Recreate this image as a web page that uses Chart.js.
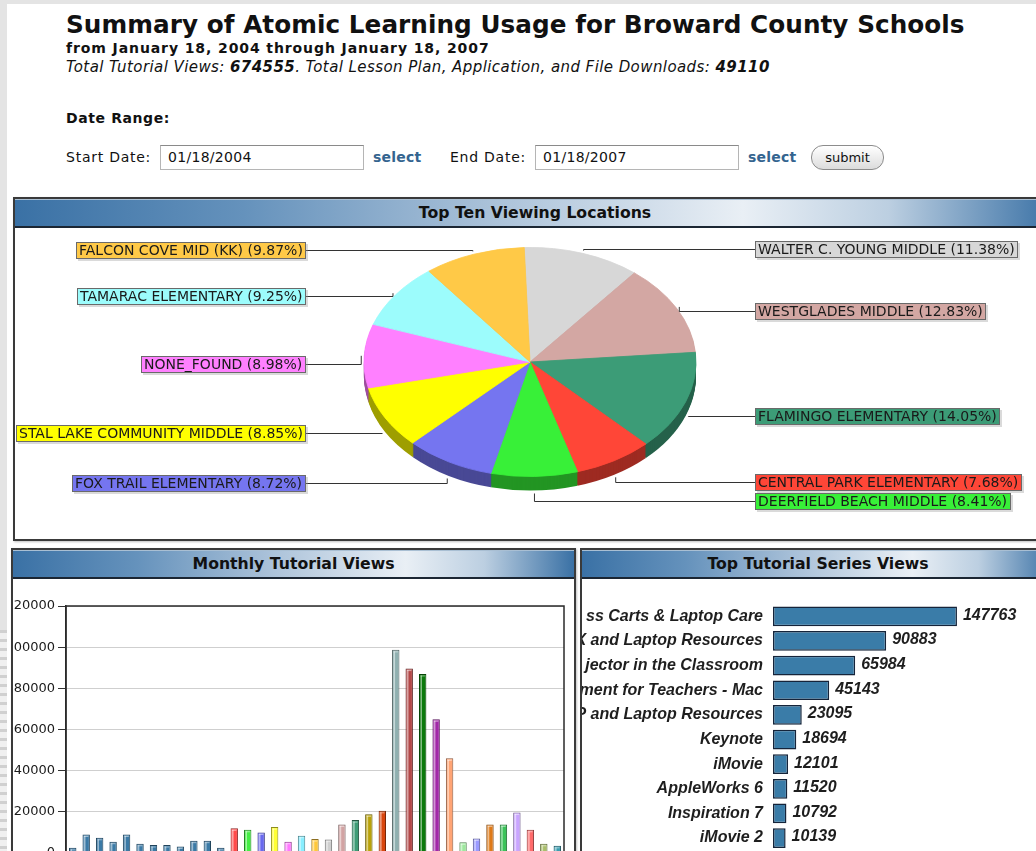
<!DOCTYPE html>
<html><head><meta charset="utf-8">
<script src="https://cdn.jsdelivr.net/npm/chart.js@4.4.1/dist/chart.umd.min.js"></script>
<style>
html,body{margin:0;padding:0;width:1036px;height:851px;overflow:hidden;background:#e4e4e4;font-family:"DejaVu Sans",sans-serif;color:#111;}
.abs{position:absolute;white-space:nowrap;}
#page{position:absolute;left:7px;top:4px;width:1040px;height:860px;background:#fff;}
#stripes{position:absolute;left:0;top:630px;width:7px;height:230px;background:repeating-linear-gradient(180deg,#d0d0d0 0,#d0d0d0 3px,#f0f0f0 3px,#f0f0f0 9px);}
.panel{position:absolute;border:2px solid #3a3a3a;background:#fff;box-sizing:border-box;box-shadow:1px 1px 2px rgba(0,0,0,.25);overflow:hidden;}
.hdr{position:absolute;left:0;right:0;top:0;height:26px;border-top:1px solid #a9bfd3;border-bottom:2px solid #1b2633;
 background:linear-gradient(90deg,#3a71a5 0%,#6592bc 22%,#a8c0d8 45%,#e9eff5 70%,#bccfe1 84%,#3a71a5 100%);
 font:bold 15.7px "DejaVu Sans",sans-serif;text-align:center;line-height:26px;color:#111;box-sizing:content-box;}
.box{position:absolute;overflow:hidden;}
.inp{position:absolute;height:25px;box-sizing:border-box;border:1px solid #b5b5b5;border-top-color:#8a8a8a;background:#fff;font:14px "DejaVu Sans",sans-serif;line-height:23px;padding-left:7px;color:#111;letter-spacing:0.3px;}
.sel{font:bold 14px "DejaVu Sans",sans-serif;color:#34648f;letter-spacing:0.2px;}
</style></head>
<body>
<div id="page"></div>
<div id="stripes"></div>

<div class="abs" style="left:66px;top:12px;font:bold 24.7px/25px 'DejaVu Sans',sans-serif;letter-spacing:0.05px;">Summary of Atomic Learning Usage for Broward County Schools</div>
<div class="abs" style="left:66px;top:41px;font:bold 14px/14px 'DejaVu Sans',sans-serif;letter-spacing:0.9px;">from January 18, 2004 through January 18, 2007</div>
<div class="abs" style="left:66px;top:60px;font:italic 15px/15px 'DejaVu Sans',sans-serif;letter-spacing:0.42px;">Total Tutorial Views: <b>674555</b>. Total Lesson Plan, Application, and File Downloads: <b>49110</b></div>
<div class="abs" style="left:66px;top:111px;font:bold 14px/14px 'DejaVu Sans',sans-serif;letter-spacing:0.6px;">Date Range:</div>
<div class="abs" style="left:66px;top:150px;font:14px/14px 'DejaVu Sans',sans-serif;letter-spacing:0.75px;">Start Date:</div>
<div class="inp" style="left:160px;top:145px;width:204px;">01/18/2004</div>
<div class="abs sel" style="left:373px;top:150px;line-height:14px;">select</div>
<div class="abs" style="left:450px;top:150px;font:14px/14px 'DejaVu Sans',sans-serif;letter-spacing:0.75px;">End Date:</div>
<div class="inp" style="left:535px;top:145px;width:204px;">01/18/2007</div>
<div class="abs sel" style="left:748px;top:150px;line-height:14px;">select</div>
<div class="abs" style="left:811px;top:145px;width:73px;height:25px;box-sizing:border-box;border:1px solid #8c8c8c;border-radius:12px;background:linear-gradient(#ffffff,#dcdcdc);font:13px/23px 'DejaVu Sans',sans-serif;text-align:center;">submit</div>

<div class="panel" style="left:13px;top:197px;width:1044px;height:344px;">
  <div class="hdr">Top Ten Viewing Locations</div>
</div>
<div class="box" style="left:15px;top:228px;width:1021px;height:311px;"><canvas id="pie" width="1030" height="311"></canvas></div>

<div class="panel" style="left:11px;top:548px;width:565px;height:320px;">
  <div class="hdr">Monthly Tutorial Views</div>
</div>
<div class="box" style="left:13px;top:580px;width:561px;height:271px;"><canvas id="monthly" width="561" height="300"></canvas></div>

<div class="panel" style="left:580px;top:548px;width:476px;height:320px;">
  <div class="hdr">Top Tutorial Series Views</div>
</div>
<div class="box" style="left:582px;top:580px;width:454px;height:271px;"><canvas id="series" width="454" height="290"></canvas></div>

<script>
// ---------- DATA ----------
const pieLabels = ['WALTER C. YOUNG MIDDLE','WESTGLADES MIDDLE','FLAMINGO ELEMENTARY','CENTRAL PARK ELEMENTARY','DEERFIELD BEACH MIDDLE','FOX TRAIL ELEMENTARY','STAL LAKE COMMUNITY MIDDLE','NONE_FOUND','TAMARAC ELEMENTARY','FALCON COVE MID (KK)'];
const pieValues = [11.38, 12.83, 14.05, 7.68, 8.41, 8.72, 8.85, 8.98, 9.25, 9.87];
const pieColors = ['#d7d7d7','#d3a7a3','#3c9c77','#ff4637','#38f038','#7575f0','#ffff00','#ff80ff','#9cfcfc','#ffc947'];

const months = ['Jan 2004','Feb 2004','Mar 2004','Apr 2004','May 2004','Jun 2004','Jul 2004','Aug 2004','Sep 2004','Oct 2004','Nov 2004','Dec 2004',
  'Jan 2005','Feb 2005','Mar 2005','Apr 2005','May 2005','Jun 2005','Jul 2005','Aug 2005','Sep 2005','Oct 2005','Nov 2005','Dec 2005',
  'Jan 2006','Feb 2006','Mar 2006','Apr 2006','May 2006','Jun 2006','Jul 2006','Aug 2006','Sep 2006','Oct 2006','Nov 2006','Dec 2006','Jan 2007'];
const monthlyViews = [2500,9000,7400,5500,9000,4500,3900,3900,3200,6000,6000,2500,
  12000,11300,10000,12600,5500,8400,6800,6500,13900,16000,18800,20500,
  98700,89600,87000,65000,46000,5200,7100,13900,13900,19700,11300,4500,3500];
const monthColors = ['#3b7aa6','#3b7aa6','#3b7aa6','#3b7aa6','#3b7aa6','#3b7aa6','#3b7aa6','#3b7aa6','#3b7aa6','#3b7aa6','#3b7aa6','#3b7aa6',
  '#ff4a4a','#44ee44','#6a6aee','#ffff33','#ff77ff','#88eeff','#ffc83a','#cfcfcf','#d2a3a3','#3d9c76','#b9a20a','#d8460e',
  '#8fb0b0','#b34848','#0b7a0b','#a228a8','#ffa474','#9de89d','#9a9aff','#de7a18','#3cc35a','#c9a4ff','#ff6b6b','#a9be6a','#3a9db0'];
const yTicks = [0,20000,40000,60000,80000,100000,120000];

const seriesLabels = ['ss Carts & Laptop Care','X and Laptop Resources','jector in the Classroom','ment for Teachers - Mac','P and Laptop Resources','Keynote','iMovie','AppleWorks 6','Inspiration 7','iMovie 2'];
const seriesValues = [147763, 90883, 65984, 45143, 23095, 18694, 12101, 11520, 10792, 10139];

// ---------- HELPERS ----------
function shade(hex, f){
  const n = parseInt(hex.slice(1),16);
  const r=Math.round(((n>>16)&255)*f), g=Math.round(((n>>8)&255)*f), b=Math.round((n&255)*f);
  return 'rgb('+r+','+g+','+b+')';
}
Chart.defaults.animation = false;
Chart.defaults.plugins.legend.display = false;
Chart.defaults.plugins.tooltip.enabled = false;

// ---------- 3D PIE ----------
const PIE_K = 0.69, PIE_DEPTH = 14;
const pie3d = {
  id: 'pie3d',
  beforeDatasetsDraw(chart){
    const ctx = chart.ctx, meta = chart.getDatasetMeta(0);
    const a0 = meta.data[0]; const cx = a0.x, cy = a0.y;
    for (let d = PIE_DEPTH; d >= 1; d--) {
      meta.data.forEach((arc, i) => {
        const p = arc.getProps(['startAngle','endAngle','outerRadius'], true);
        ctx.save();
        ctx.translate(cx, cy + d); ctx.scale(1, PIE_K); ctx.translate(-cx, -cy);
        ctx.beginPath(); ctx.moveTo(cx, cy); ctx.arc(cx, cy, p.outerRadius, p.startAngle, p.endAngle); ctx.closePath();
        ctx.fillStyle = shade(pieColors[i], 0.62); ctx.fill();
        ctx.restore();
      });
    }
    ctx.save();
    ctx.translate(cx, cy); ctx.scale(1, PIE_K); ctx.translate(-cx, -cy);
  },
  afterDatasetsDraw(chart){
    const ctx = chart.ctx; ctx.restore();
    const meta = chart.getDatasetMeta(0);
    const a0 = meta.data[0]; const cx = a0.x, cy = a0.y;
    const items = meta.data.map((arc, i) => {
      const p = arc.getProps(['startAngle','endAngle','outerRadius'], true);
      const mid = (p.startAngle + p.endAngle) / 2, c = Math.cos(mid), s = Math.sin(mid);
      const rx = p.outerRadius, ry = p.outerRadius * PIE_K;
      return {i, left: c < 0,
        ax: cx + (rx + 3) * c,
        ay: cy + (ry + 3) * s + (s > 0 ? PIE_DEPTH : 0),
        y: cy + 9 + (ry + 14) * s,
        text: pieLabels[i] + ' (' + pieValues[i].toFixed(2) + '%)'};
    });
    [true, false].forEach(side => {
      const list = items.filter(t => t.left === side).sort((a, b) => a.y - b.y);
      for (let j = 1; j < list.length; j++) if (list[j].y - list[j-1].y < 19) list[j].y = list[j-1].y + 19;
    });
    ctx.font = '14px "DejaVu Sans"';
    ctx.textBaseline = 'middle';
    items.forEach(t => {
      const y = Math.round(t.y);
      const w = Math.ceil(ctx.measureText(t.text).width) + 6;
      const edge = t.left ? cx - 224 : cx + 225;
      const bx = t.left ? edge - w : edge;
      ctx.strokeStyle = '#333'; ctx.lineWidth = 1;
      ctx.beginPath(); ctx.moveTo(edge, y + 0.5); ctx.lineTo(t.ax, y + 0.5); ctx.lineTo(t.ax, t.ay); ctx.stroke();
      ctx.fillStyle = 'rgba(150,150,150,0.35)'; ctx.fillRect(bx + 2, y - 8 + 2, w, 17);
      ctx.fillStyle = pieColors[t.i]; ctx.fillRect(bx, y - 8, w, 17);
      ctx.strokeStyle = '#6a6a6a'; ctx.strokeRect(bx + 0.5, y - 7.5, w - 1, 16);
      ctx.fillStyle = '#1a1a1a'; ctx.fillText(t.text, bx + 3, y + 1);
    });
  }
};
new Chart(document.getElementById('pie'), {
  type: 'pie',
  data: { labels: pieLabels, datasets: [{ data: pieValues, backgroundColor: pieColors, borderColor: pieColors, borderWidth: 1, radius: 166, clip: false }] },
  options: { responsive: false, rotation: -2, layout: { padding: { bottom: 43 } } },
  plugins: [pie3d]
});

// ---------- MONTHLY BARS ----------
const frame = {
  id: 'frame',
  afterDraw(chart){
    const a = chart.chartArea, ctx = chart.ctx;
    ctx.save(); ctx.strokeStyle = '#2a2a2a'; ctx.lineWidth = 1.5;
    ctx.strokeRect(a.left, a.top, a.right - a.left, a.bottom - a.top); ctx.restore();
  }
};
const barShine = {
  id: 'barShine',
  afterDatasetsDraw(chart){
    const ctx = chart.ctx;
    chart.getDatasetMeta(0).data.forEach(b => {
      const p = b.getProps(['x','y','base','width'], true);
      const h = p.base - p.y; if (h < 3) return;
      ctx.fillStyle = 'rgba(255,255,255,0.5)';
      ctx.fillRect(p.x - p.width/2 + 1.5, p.y + 1.5, 1.5, h - 1.5);
      ctx.fillRect(p.x - p.width/2 + 1.5, p.y + 1.5, p.width - 3, 1);
    });
  }
};
new Chart(document.getElementById('monthly'), {
  type: 'bar',
  data: { labels: months, datasets: [{ data: monthlyViews, backgroundColor: monthColors,
    borderColor: monthColors.map(c => shade(c, 0.55)), borderWidth: 1, borderSkipped: false,
    barPercentage: 0.55, categoryPercentage: 1 }] },
  options: {
    responsive: false,
    layout: { padding: { top: 26, bottom: 27, right: 10, left: 0 } },
    scales: {
      x: { display: false, offset: true, grid: { display: false } },
      y: { min: 0, max: 120000,
        afterFit(s){ s.width = 53; },
        afterBuildTicks(s){ s.ticks = yTicks.map(v => ({ value: v })); },
        ticks: { color: '#1a1a1a', padding: 3, font: { family: 'DejaVu Sans', size: 13 }, callback: v => String(v) },
        grid: { color: '#cfcfcf', tickColor: '#333', tickLength: 8, lineWidth: 1 },
        border: { color: '#2a2a2a', width: 1.5 } }
    }
  },
  plugins: [frame, barShine]
});

// ---------- TOP SERIES (HORIZONTAL) ----------
const valueLabels = {
  id: 'valueLabels',
  afterDatasetsDraw(chart){
    const ctx = chart.ctx;
    ctx.save();
    ctx.font = 'italic bold 16px "Liberation Sans"';
    ctx.fillStyle = '#1e1e1e'; ctx.textBaseline = 'middle';
    chart.getDatasetMeta(0).data.forEach((b, i) => {
      ctx.fillText(String(seriesValues[i]), b.x + 6, b.y - 1);
    });
    ctx.restore();
  }
};
new Chart(document.getElementById('series'), {
  type: 'bar',
  data: { labels: seriesLabels, datasets: [{ data: seriesValues, backgroundColor: '#3a7ca8',
    borderColor: '#15243a', borderWidth: 1.5, borderSkipped: false, barPercentage: 0.8, categoryPercentage: 1 }] },
  options: {
    indexAxis: 'y', responsive: false,
    layout: { padding: { top: 24, bottom: 16, right: 14, left: 0 } },
    scales: {
      x: { display: false, min: 0, max: 200000 },
      y: { afterFit(s){ s.width = 191; },
        ticks: { autoSkip: false, color: '#1e1e1e', padding: 10, font: { family: 'Liberation Sans', size: 16, weight: 'bold', style: 'italic' } },
        grid: { display: false, drawTicks: false }, border: { display: false } }
    }
  },
  plugins: [valueLabels]
});
</script>
</body></html>
